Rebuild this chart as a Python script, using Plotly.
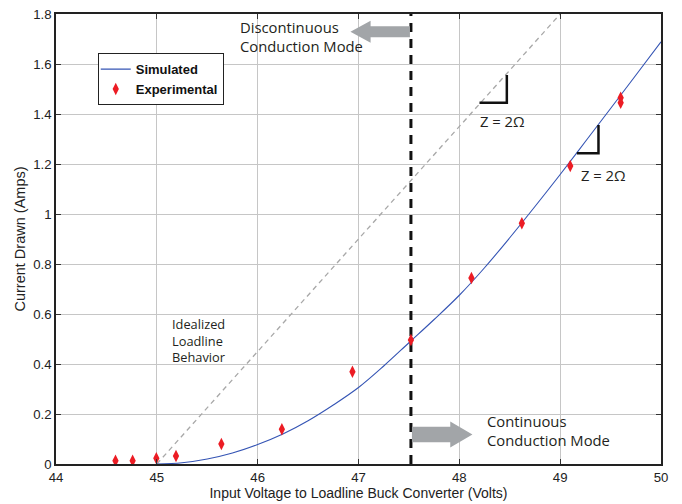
import plotly.graph_objects as go

# Measured operating points of the loadline buck converter
exp_v = [44.59, 44.76, 44.995, 45.19, 45.64, 46.24, 46.94, 47.52, 48.12, 48.62, 49.10, 49.60, 49.60]
exp_i = [0.013, 0.013, 0.023, 0.032, 0.080, 0.139, 0.369, 0.496, 0.744, 0.963, 1.192, 1.465, 1.445]

# Simulated current draw
sim_v = [45.0, 45.25, 45.5, 45.75, 46.0, 46.25, 46.5, 46.75, 47.0, 47.25, 47.5, 47.75,
         48.0, 48.25, 48.5, 48.75, 49.0, 49.25, 49.5, 49.75, 50.0]
sim_i = [0.0, 0.005, 0.020, 0.044, 0.078, 0.120, 0.173, 0.236, 0.306, 0.392, 0.485, 0.578,
         0.675, 0.785, 0.905, 1.030, 1.158, 1.290, 1.422, 1.555, 1.689]

# Idealized loadline
ideal_v = [45.0, 49.0]
ideal_i = [0.0, 1.8]

# Boundary between discontinuous and continuous conduction
boundary_v = 47.52

x_ticks = [44, 45, 46, 47, 48, 49, 50]
y_ticks = [0, 0.2, 0.4, 0.6, 0.8, 1.0, 1.2, 1.4, 1.6, 1.8]
y_tick_text = ["0", "0.2", "0.4", "0.6", "0.8", "1", "1.2", "1.4", "1.6", "1.8"]

TXT = "#231f20"
SANS = "Liberation Sans, Arial, sans-serif"
NOTE_FONT = dict(family="Open Sans, Noto Sans, sans-serif", size=14.8, color=TXT)
TICK_FONT = dict(family=SANS, size=13.2, color="#222")
TITLE_FONT = dict(family=SANS, size=14, color="#222")

fig = go.Figure()

fig.add_trace(go.Scatter(
    x=ideal_v, y=ideal_i, mode="lines", showlegend=False,
    line=dict(color="#a8a8a8", width=1.3, dash="5px,4px"), hoverinfo="skip"))

fig.add_trace(go.Scatter(
    x=[boundary_v, boundary_v], y=[0, 1.8], mode="lines", showlegend=False,
    line=dict(color="#111", width=3, dash="9px,7px"), hoverinfo="skip"))

fig.add_trace(go.Scatter(
    x=sim_v, y=sim_i, mode="lines", name="Simulated", legendgroup="sim",
    line=dict(color="#3454b4", width=1.1, shape="spline", smoothing=1.0)))

fig.add_trace(go.Scatter(
    x=exp_v, y=exp_i, mode="markers", name="Experimental", legendgroup="exp",
    marker=dict(symbol="diamond-tall", size=9, color="#ec1c24",
                line=dict(width=0))))


def arrow_path(x_tail, x_tip, yc, body_h, head_h, head_len):
    d = 1 if x_tip > x_tail else -1
    xb = x_tip - d * head_len
    pts = [(x_tail, yc - body_h), (xb, yc - body_h), (xb, yc - head_h), (x_tip, yc),
           (xb, yc + head_h), (xb, yc + body_h), (x_tail, yc + body_h)]
    return "M " + " L ".join(f"{px},{py}" for px, py in pts) + " Z"


ARROW = "#a2a5a8"
shapes = [
    dict(type="path", xref="x", yref="y", layer="above",
         path=arrow_path(boundary_v - 0.01, 46.92, 1.729, 0.022, 0.044, 0.20),
         fillcolor=ARROW, line=dict(width=0)),
    dict(type="path", xref="x", yref="y", layer="above",
         path=arrow_path(boundary_v + 0.01, 48.13, 0.118, 0.031, 0.052, 0.22),
         fillcolor=ARROW, line=dict(width=0)),
]

# right-angle slope markers
for xh, xv, yb, yt in [(48.20, 48.471, 1.445, 1.556), (49.166, 49.38, 1.243, 1.356)]:
    shapes.append(dict(type="path", xref="x", yref="y", layer="above",
                       path=f"M {xh},{yb} L {xv},{yb} L {xv},{yt}",
                       line=dict(color="#111", width=2.5)))

annotations = [
    dict(x=45.80, y=1.71, text="Discontinuous<br>Conduction Mode"),
    dict(x=48.25, y=0.136, text="Continuous<br>Conduction Mode"),
    dict(x=45.13, y=0.496, text="Idealized<br>Loadline<br>Behavior", font=dict(NOTE_FONT, size=12.8)),
    dict(x=48.19, y=1.372, text="Z = 2Ω"),
    dict(x=49.19, y=1.155, text="Z = 2Ω"),
]
for a in annotations:
    a.setdefault("font", NOTE_FONT)
    a.update(xref="x", yref="y", xanchor="left", yanchor="middle",
             showarrow=False, align="left")

fig.update_layout(
    width=682, height=504,
    margin=dict(l=56, r=21, t=14, b=40),
    paper_bgcolor="white", plot_bgcolor="white",
    shapes=shapes, annotations=annotations,
    legend=dict(x=0.069, y=0.913, xanchor="left", yanchor="top",
                bgcolor="white", bordercolor="#222", borderwidth=1,
                font=dict(family=SANS, size=13, color="#111", weight="bold"),
                itemwidth=30, tracegroupgap=0, indentation=-3),
)

fig.update_xaxes(
    range=[44, 50], tickvals=x_ticks, showgrid=True, gridcolor="#c6c6c6", gridwidth=1.3,
    showline=True, linecolor="#222", linewidth=1.5, mirror="ticks", automargin=False,
    ticks="inside", ticklen=5, tickcolor="#333", tickfont=TICK_FONT, zeroline=False,
    title=dict(text="Input Voltage to Loadline Buck Converter (Volts)",
               font=TITLE_FONT, standoff=2))
fig.update_yaxes(
    range=[0, 1.8], tickvals=y_ticks, ticktext=y_tick_text,
    showgrid=True, gridcolor="#c6c6c6", gridwidth=1.3,
    showline=True, linecolor="#222", linewidth=1.5, mirror="ticks", automargin=False,
    ticks="inside", ticklen=5, tickcolor="#333", tickfont=TICK_FONT, zeroline=False,
    title=dict(text="Current Drawn (Amps)", font=dict(TITLE_FONT, size=14.5), standoff=4))

fig.write_html("out.html")
